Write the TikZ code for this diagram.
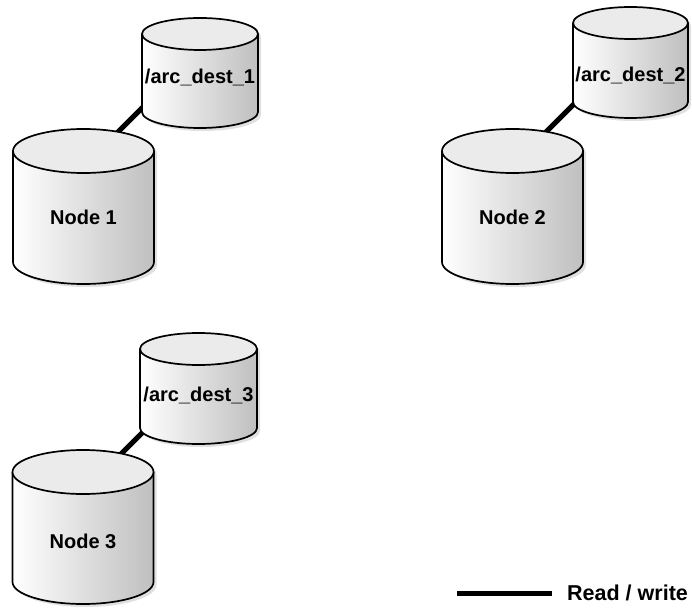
\documentclass[tikz,border=0pt]{standalone}
\usepackage{fontspec}
\setmainfont{Liberation Sans}
\usetikzlibrary{calc}
\pgfdeclarelayer{shadowlayer}
\pgfdeclarelayer{connlayer}
\pgfsetlayers{shadowlayer,connlayer,main}
\tikzset{
  cylline/.style={line width=1.7pt, black},
  topfill/.style={fill=black!8},
  bodyshade/.style={left color=white, middle color=black!5, right color=black!25},
  shadowfill/.style={fill=black!12},
  rw/.style={line width=5pt, black},
  lbl/.style={font=\bfseries\fontsize{20}{23}\selectfont, inner sep=0pt},
  lgtext/.style={font=\bfseries\fontsize{21.5}{25}\selectfont, inner sep=0pt},
}
% #1 name, #2 cx, #3 top y (image px), #4 rx, #5 ry, #6 height, #7 text y (image px), #8 text
\newcommand\dbcyl[8]{%
  \pgfmathsetmacro\cylTopC{608-#3-#5}%
  \pgfmathsetmacro\cylBotC{608-#3-#6+#5}%
  \begin{pgfonlayer}{shadowlayer}
    \fill[shadowfill] ({#2-#4+3},{\cylTopC-3}) -- ({#2-#4+3},{\cylBotC-3})
      arc[start angle=180, end angle=360, x radius=#4, y radius=#5]
      -- ({#2+#4+3},{\cylTopC-3})
      arc[start angle=0, end angle=180, x radius=#4, y radius=#5] -- cycle;
  \end{pgfonlayer}
  \shade[bodyshade] ({#2-#4},\cylTopC) -- ({#2-#4},\cylBotC)
    arc[start angle=180, end angle=360, x radius=#4, y radius=#5]
    -- ({#2+#4},\cylTopC)
    arc[start angle=0, end angle=180, x radius=#4, y radius=#5] -- cycle;
  \draw[cylline] ({#2-#4},\cylTopC) -- ({#2-#4},\cylBotC)
    arc[start angle=180, end angle=360, x radius=#4, y radius=#5]
    -- ({#2+#4},\cylTopC);
  \filldraw[cylline, topfill] (#2,\cylTopC) ellipse[x radius=#4, y radius=#5];
  \node[lbl] (#1) at (#2,{608-#7}) {#8};
}
\begin{document}
\begin{tikzpicture}[x=1pt,y=1pt]
\useasboundingbox (0,0) rectangle (692,608);

% cylinders
\dbcyl{n1}{83.5}{129}{70.5}{22}{155}{217}{Node 1}
\dbcyl{n2}{512.5}{129}{70.5}{22}{155}{217}{Node 2}
\dbcyl{n3}{83}{450}{70.5}{22}{154}{541}{Node 3}
\dbcyl{a1}{200}{18}{58}{16}{110}{77}{/arc\_dest\_1}
\dbcyl{a2}{630.5}{7}{57.5}{16}{111}{75}{/arc\_dest\_2}
\dbcyl{a3}{198.5}{333}{58.5}{16}{111}{395}{/arc\_dest\_3}

% connector end points
\coordinate (a1c) at (150,508);
\coordinate (n1c) at (115,473);
\coordinate (a2c) at (580,510);
\coordinate (n2c) at (540,470);
\coordinate (a3c) at (150,183);
\coordinate (n3c) at (112,145);

\begin{pgfonlayer}{connlayer}
  \draw[rw] (a1c) -- (n1c);
  \draw[rw] (a2c) -- (n2c);
  \draw[rw] (a3c) -- (n3c);
\end{pgfonlayer}

% legend
\coordinate (lgA) at (457,15);
\coordinate (lgB) at (552,15);
\draw[rw] (lgA) -- (lgB);
\node[lgtext, anchor=west] (lg) at (567,15) {Read / write};
\end{tikzpicture}
\end{document}
